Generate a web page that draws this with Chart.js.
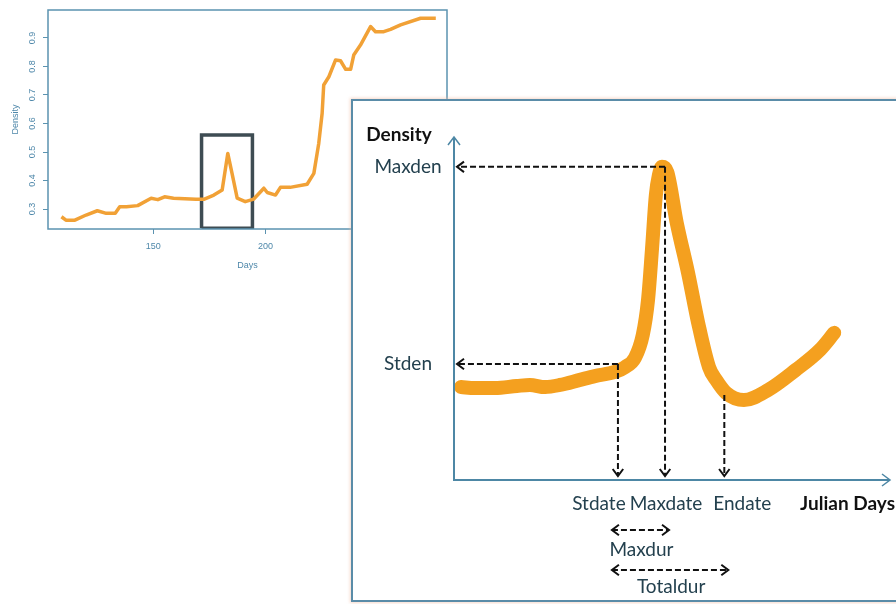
<!DOCTYPE html>
<html>
<head>
<meta charset="utf-8">
<script src="https://cdn.jsdelivr.net/npm/chart.js@4.4.1/dist/chart.umd.min.js"></script>
<style>
  html, body { margin: 0; padding: 0; background: #fff; }
  body { width: 896px; height: 604px; position: relative; overflow: hidden; }
  #overview { position: absolute; left: 0; top: 0; }
  #panel {
    position: absolute; left: 351px; top: 99px; width: 600px; height: 499px;
    background: #fff; border: 2px solid #5a8ca8;
    box-shadow: 0 0 3px 1px rgba(240, 185, 160, 0.55);
  }
  #detail { position: absolute; left: 353px; top: 101px; }
</style>
</head>
<body>
<canvas id="overview" width="460" height="290"></canvas>
<div id="panel"></div>
<canvas id="detail" width="543" height="499"></canvas>
<script>
// --- overview plot (density over the season) ---
const days = [109, 111, 115, 120, 125, 129, 133, 135, 138, 143, 149, 152, 155, 159, 169, 172.5,
  177, 180.7, 183.2, 185.1, 187.4, 191, 194.8, 199.3, 200.8, 204.5, 206.7, 211, 218.6, 221.6,
  223.8, 225.3, 226, 228.3, 231.3, 233.5, 235.8, 238, 239.4, 242.4, 246.9, 249.1, 252.8, 255.8,
  260.3, 269.2, 276];
const density = [0.273, 0.261, 0.261, 0.279, 0.294, 0.285, 0.285, 0.308, 0.308, 0.312, 0.338,
  0.333, 0.343, 0.338, 0.334, 0.334, 0.349, 0.367, 0.495, 0.425, 0.338, 0.326, 0.335, 0.373,
  0.358, 0.349, 0.376, 0.376, 0.387, 0.425, 0.531, 0.636, 0.735, 0.764, 0.823, 0.82, 0.79, 0.79,
  0.84, 0.875, 0.94, 0.922, 0.922, 0.93, 0.946, 0.969, 0.969];
const xTicks = [150, 200, 250];
const yTicks = [0.3, 0.4, 0.5, 0.6, 0.7, 0.8, 0.9];
const boxDays = [171.5, 194.2, 194.2, 171.5, 171.5];
const boxDensity = [0.233, 0.233, 0.56, 0.56, 0.233];

// --- schematic of one density peak ---
const curveX = [1.6, 4.8, 9.4, 14.4, 17.4, 20.9, 24.3, 28.9, 32.3, 36.9, 39.2, 41.5, 43.3, 44.5,
  45.4, 46.3, 47.0, 47.7, 48.9, 51.1, 53.7, 56.0, 58.5, 60.1, 62.4, 66.5, 72.0, 78.4, 83.9, 87.2];
const curveY = [0.271, 0.268, 0.268, 0.274, 0.277, 0.271, 0.277, 0.292, 0.303, 0.315, 0.329,
  0.356, 0.423, 0.525, 0.671, 0.831, 0.889, 0.913, 0.898, 0.749, 0.603, 0.458, 0.329, 0.292,
  0.254, 0.233, 0.262, 0.321, 0.379, 0.429];
const denLabels = ['Maxden', 'Stden'];
const denValues = [0.913, 0.338];
const denReach = [48.4, 37.6];
const dateLabels = ['Stdate', 'Maxdate', 'Endate'];
const dateValues = [37.6, 48.4, 62.0];
const dateFrom = [0.338, 0.913, 0.248];
const durLabels = ['Maxdur', 'Totaldur'];
const durFrom = [37.6, 37.6];
const durTo = [48.4, 62.0];

const rBlue = '#4f88aa';

const frame = {
  id: 'frame',
  afterDraw(chart) {
    const { ctx, chartArea: a, scales: { y } } = chart;
    ctx.save();
    ctx.strokeStyle = '#5b93b0';
    ctx.lineWidth = 1.5;
    ctx.strokeRect(a.left, a.top, a.right - a.left, a.bottom - a.top);
    // R-style y labels, parallel to the axis
    ctx.fillStyle = rBlue;
    ctx.font = '9px "Liberation Sans", Arial, sans-serif';
    ctx.textAlign = 'center';
    ctx.textBaseline = 'middle';
    yTicks.forEach(v => {
      ctx.save();
      ctx.translate(33, y.getPixelForValue(v));
      ctx.rotate(-Math.PI / 2);
      ctx.fillText(v.toFixed(1), 0, 0);
      ctx.restore();
    });
    ctx.restore();
  }
};

new Chart(document.getElementById('overview'), {
  type: 'line',
  data: {
    datasets: [{
      data: days.map((d, i) => ({ x: d, y: density[i] })),
      borderColor: '#f1a136',
      borderWidth: 3.5,
      borderJoinStyle: 'round',
      pointRadius: 0,
      tension: 0
    }, {
      data: boxDays.map((d, i) => ({ x: d, y: boxDensity[i] })),
      borderColor: '#3e4c53',
      borderWidth: 3.5,
      pointRadius: 0,
      tension: 0
    }]
  },
  options: {
    responsive: false,
    animation: false,
    layout: { padding: { top: 10, right: 13, left: 0, bottom: 0 } },
    plugins: { legend: { display: false }, tooltip: { enabled: false } },
    scales: {
      x: {
        type: 'linear', min: 103, max: 281,
        afterBuildTicks: s => { s.ticks = xTicks.map(v => ({ value: v })); },
        afterFit: s => { s.height = 61; },
        border: { display: false },
        grid: { drawOnChartArea: false, tickLength: 5, color: '#5b93b0' },
        ticks: { color: rBlue, font: { size: 9, family: '"Liberation Sans", Arial' }, padding: 7, maxRotation: 0 },
        title: { display: true, text: 'Days', color: rBlue, font: { size: 9, family: '"Liberation Sans", Arial' }, padding: { top: 0, bottom: 19 } }
      },
      y: {
        min: 0.23, max: 0.998,
        afterBuildTicks: s => { s.ticks = yTicks.map(v => ({ value: v })); },
        afterFit: s => { s.width = 48; },
        border: { display: false },
        grid: { drawOnChartArea: false, tickLength: 5, color: '#5b93b0' },
        ticks: { display: false },
        title: { display: true, text: 'Density', color: rBlue, font: { size: 9, family: '"Liberation Sans", Arial' }, padding: { top: 10, bottom: 0 } }
      }
    }
  },
  plugins: [frame]
});

function chevron(ctx, x, y, angle, size) {
  ctx.save();
  ctx.setLineDash([]);
  ctx.translate(x, y);
  ctx.rotate(angle);
  ctx.beginPath();
  ctx.moveTo(-size, -size * 0.75);
  ctx.lineTo(0, 0);
  ctx.lineTo(-size, size * 0.75);
  ctx.stroke();
  ctx.restore();
}

const scheme = {
  id: 'scheme',
  afterDatasetsDraw(chart) {
    const { ctx, chartArea: a, scales: { x, y } } = chart;
    ctx.save();
    ctx.lineCap = 'butt';
    // axes with arrows
    ctx.strokeStyle = '#4d87a5';
    ctx.lineWidth = 2;
    ctx.beginPath();
    ctx.moveTo(a.left, a.top);
    ctx.lineTo(a.left, a.bottom);
    ctx.lineTo(a.right, a.bottom);
    ctx.stroke();
    ctx.lineWidth = 1.5;
    chevron(ctx, a.left, a.top, -Math.PI / 2, 8);
    chevron(ctx, a.right, a.bottom, 0, 8);

    // dashed guides
    ctx.strokeStyle = '#111';
    ctx.lineWidth = 2;
    denValues.forEach((v, i) => {
      const py = y.getPixelForValue(v);
      const px = x.getPixelForValue(denReach[i]);
      ctx.setLineDash([6, 3]);
      ctx.beginPath();
      ctx.moveTo(px, py);
      ctx.lineTo(a.left + 3, py);
      ctx.stroke();
      chevron(ctx, a.left + 3, py, Math.PI, 7);
    });
    dateValues.forEach((v, i) => {
      const px = x.getPixelForValue(v);
      ctx.setLineDash([6, 3]);
      ctx.beginPath();
      ctx.moveTo(px, y.getPixelForValue(dateFrom[i]));
      ctx.lineTo(px, a.bottom - 4);
      ctx.stroke();
      chevron(ctx, px, a.bottom - 4, Math.PI / 2, 7);
    });
    const durY = [a.bottom + 50, a.bottom + 90];
    durLabels.forEach((t, i) => {
      const x0 = x.getPixelForValue(durFrom[i]) - 6;
      const x1 = x.getPixelForValue(durTo[i]) + 4;
      ctx.setLineDash([6, 3]);
      ctx.beginPath();
      ctx.moveTo(x0, durY[i]);
      ctx.lineTo(x1, durY[i]);
      ctx.stroke();
      chevron(ctx, x0, durY[i], Math.PI, 7);
      chevron(ctx, x1, durY[i], 0, 7);
    });

    // labels
    ctx.setLineDash([]);
    ctx.textBaseline = 'middle';
    ctx.textAlign = 'center';
    ctx.fillStyle = '#111';
    ctx.font = 'bold 19px Lato, "Open Sans", sans-serif';
    ctx.fillText('Density', a.left - 55, a.top - 2);
    ctx.textAlign = 'right';
    ctx.fillText('Julian Days', a.right + 5, a.bottom + 24);

    ctx.fillStyle = '#23404e';
    ctx.font = '19px Lato, "Open Sans", sans-serif';
    ctx.textAlign = 'center';
    denLabels.forEach((t, i) => {
      ctx.fillText(t, a.left - 46, y.getPixelForValue(denValues[i]));
    });
    const shift = [-19, 1, 18];
    dateLabels.forEach((t, i) => {
      ctx.fillText(t, x.getPixelForValue(dateValues[i]) + shift[i], a.bottom + 24);
    });
    const durTextY = [a.bottom + 70, a.bottom + 107];
    durLabels.forEach((t, i) => {
      const mid = (x.getPixelForValue(durFrom[i]) + x.getPixelForValue(durTo[i])) / 2;
      ctx.fillText(t, mid, durTextY[i]);
    });
    ctx.restore();
  }
};

new Chart(document.getElementById('detail'), {
  type: 'line',
  data: {
    datasets: [{
      data: curveX.map((v, i) => ({ x: v, y: curveY[i] })),
      borderColor: '#f4a01f',
      borderWidth: 14,
      borderCapStyle: 'round',
      borderJoinStyle: 'round',
      pointRadius: 0,
      cubicInterpolationMode: 'monotone',
      clip: false
    }]
  },
  options: {
    responsive: false,
    animation: false,
    layout: { padding: { left: 101, right: 6, top: 36, bottom: 120 } },
    plugins: { legend: { display: false }, tooltip: { enabled: false } },
    scales: {
      x: { type: 'linear', min: 0, max: 100, display: false },
      y: { min: 0, max: 1, display: false }
    }
  },
  plugins: [scheme]
});
</script>
</body>
</html>
